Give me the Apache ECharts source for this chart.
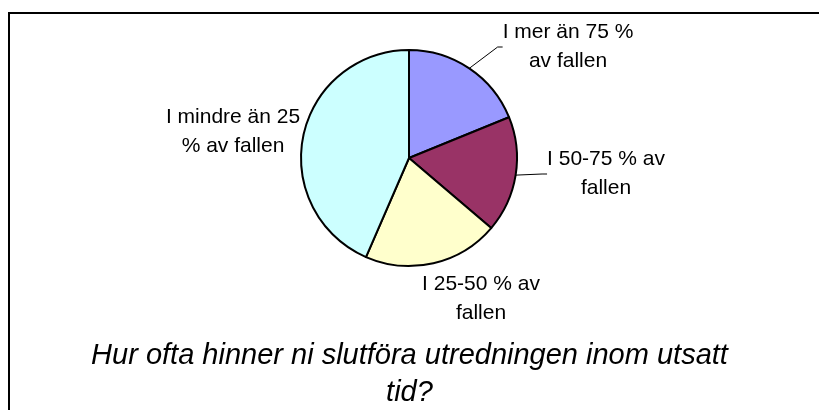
<!DOCTYPE html>
<html>
<head>
<meta charset="utf-8">
<script src="https://cdn.jsdelivr.net/npm/echarts@6/dist/echarts.min.js"></script>
<style>
  html, body { margin: 0; padding: 0; background: #fff; }
  #chart { width: 819px; height: 410px; }
</style>
</head>
<body>
<div id="chart"></div>
<script>
// andelar läst ur bilden (start kl 12, medurs)
const categories = ['I mer än 75 % av fallen', 'I 50-75 % av fallen', 'I 25-50 % av fallen', 'I mindre än 25 % av fallen'];
const labelTexts = ['I mer än 75 %\nav fallen', 'I 50-75 % av\nfallen', 'I 25-50 % av\nfallen', 'I mindre än 25\n% av fallen'];
const values = [13, 12, 14, 30];
const colors = ['#9999FF', '#993366', '#FFFFCC', '#CCFFFF'];
const showLine = [true, true, false, false];

// var etikettens mitt hamnar
const labelPos = [[568, 47], [606, 174], [481, 299], [233, 132]];

const chart = echarts.init(document.getElementById('chart'));

const option = {
  animation: false,
  backgroundColor: '#fff',
  title: {
    text: 'Hur ofta hinner ni slutföra utredningen inom utsatt\ntid?',
    left: 'center',
    top: 332,
    textStyle: {
      fontFamily: 'Liberation Sans',
      fontStyle: 'italic',
      fontWeight: 'normal',
      fontSize: 29,
      lineHeight: 37,
      color: '#000'
    }
  },
  graphic: [
    {
      type: 'rect',
      shape: { x: 9, y: 13, width: 900, height: 500 },
      style: { fill: 'none', stroke: '#000', lineWidth: 2 },
      silent: true
    }
  ],
  series: [
    {
      type: 'pie',
      center: [409, 158],
      radius: 108,
      startAngle: 90,
      clockwise: true,
      avoidLabelOverlap: false,
      itemStyle: { borderColor: '#000', borderWidth: 2 },
      label: {
        show: true,
        position: 'outside',
        formatter: p => labelTexts[p.dataIndex],
        fontFamily: 'Liberation Sans',
        fontSize: 21,
        lineHeight: 29,
        color: '#000',
        align: 'center'
      },
      labelLine: {
        show: true,
        length: 10,
        length2: 5,
        lineStyle: { color: '#000', width: 1 }
      },
      labelLayout: function (params) {
        const p = labelPos[params.dataIndex];
        return { x: p[0], y: p[1], align: 'center', verticalAlign: 'middle' };
      },
      emphasis: { disabled: true },
      data: categories.map((name, i) => ({
        name: name,
        value: values[i],
        itemStyle: { color: colors[i] },
        labelLine: { show: showLine[i] }
      }))
    }
  ]
};

chart.setOption(option);
</script>
</body>
</html>
